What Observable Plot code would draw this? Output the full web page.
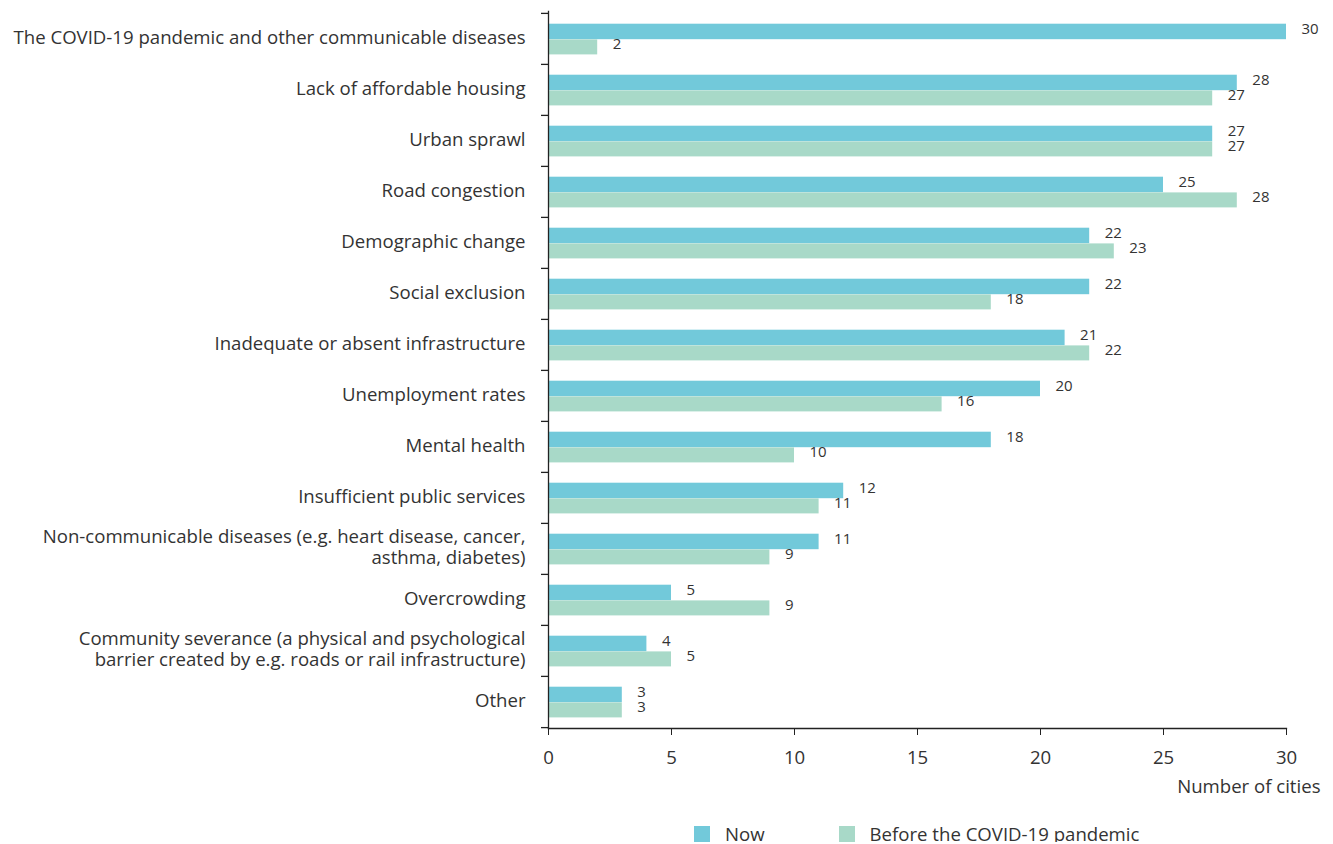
<!DOCTYPE html>
<html>
<head>
<meta charset="utf-8">
<script src="https://cdn.jsdelivr.net/npm/d3@7"></script>
<script src="https://cdn.jsdelivr.net/npm/@observablehq/plot@0.6"></script>
<style>
  body { margin: 0; background: #fff; font-family: "Open Sans", sans-serif; }
  #legend { display: flex; align-items: center; padding-left: 694px; margin-top: 20px; font-size: 18.6px; color: #333; height: 17px; }
  #legend .sw { width: 16px; height: 16px; display: inline-block; flex: none; }
  #legend .lab { margin-left: 15px; white-space: nowrap; }
</style>
</head>
<body>
<div id="chart"></div>
<div id="legend"></div>
<script>
const categories = [
  "The COVID-19 pandemic and other communicable diseases",
  "Lack of affordable housing",
  "Urban sprawl",
  "Road congestion",
  "Demographic change",
  "Social exclusion",
  "Inadequate or absent infrastructure",
  "Unemployment rates",
  "Mental health",
  "Insufficient public services",
  "Non-communicable diseases (e.g. heart disease, cancer,\nasthma, diabetes)",
  "Overcrowding",
  "Community severance (a physical and psychological\nbarrier created by e.g. roads or rail infrastructure)",
  "Other"
];
const nowValues    = [30, 28, 27, 25, 22, 22, 21, 20, 18, 12, 11, 5, 4, 3];
const beforeValues = [ 2, 27, 27, 28, 23, 18, 22, 16, 10, 11,  9, 9, 5, 3];
const seriesNames = ["Now", "Before the COVID-19 pandemic"];
const seriesColors = ["#72c9da", "#a8d9c8"];
const xTicks = [0, 5, 10, 15, 20, 25, 30];
const xLabel = "Number of cities";

const nowData = categories.map((c, i) => ({category: c, value: nowValues[i]}));
const beforeData = categories.map((c, i) => ({category: c, value: beforeValues[i]}));

const width = 1333, height = 805;
const marginTop = 11, marginBottom = 77, marginLeft = 548, marginRight = 47;
const bw = (height - marginTop - marginBottom) / categories.length;
const textColor = "#333";
const fs = 18.6;

const chart = Plot.plot({
  width, height, marginTop, marginBottom, marginLeft, marginRight,
  style: {fontFamily: "Open Sans, sans-serif", color: textColor, background: "#fff"},
  x: {domain: [0, 30], ticks: xTicks},
  y: {type: "band", domain: categories, padding: 0},
  marks: [
    Plot.barX(nowData, {x: "value", y: "category", fill: seriesColors[0], insetTop: 10.7, insetBottom: 24.8}),
    Plot.barX(beforeData, {x: "value", y: "category", fill: seriesColors[1], insetTop: 26.4, insetBottom: 9.6}),
    Plot.text(nowData, {x: "value", y: "category", text: d => String(d.value), dx: 15, dy: -10, textAnchor: "start", fontSize: 15, fill: textColor}),
    Plot.text(beforeData, {x: "value", y: "category", text: d => String(d.value), dx: 15, dy: 5, textAnchor: "start", fontSize: 15, fill: textColor}),
    Plot.ruleY(categories, {y: d => d, x1: 0, x2: 0, insetLeft: -7, dy: -bw / 2, stroke: "#222", strokeWidth: 1.3}),
    Plot.ruleY(categories.slice(-1), {y: d => d, x1: 0, x2: 0, insetLeft: -7, dy: bw / 2, stroke: "#222", strokeWidth: 1.3}),
    Plot.frame({anchor: "left", stroke: "#222", strokeWidth: 1.3}),
    Plot.frame({anchor: "bottom", stroke: "#222", strokeWidth: 1.3}),
    Plot.axisY({tickSize: 0, tickPadding: 23, fontSize: fs, label: null, lineHeight: 1.1, dy: -2, fill: textColor}),
    Plot.axisX({ticks: xTicks, tickSize: 7, tickPadding: 15, fontSize: fs, label: null, stroke: "#222", fill: textColor}),
    Plot.text([xLabel], {text: d => d, frameAnchor: "bottom-right", dx: 34, dy: 64, textAnchor: "end", fontSize: fs, fill: textColor})
  ]
});
document.getElementById("chart").appendChild(chart);

const legend = document.getElementById("legend");
seriesNames.forEach((name, i) => {
  const sw = document.createElement("span");
  sw.className = "sw";
  sw.style.background = seriesColors[i];
  if (i > 0) sw.style.marginLeft = "74px";
  const lab = document.createElement("span");
  lab.className = "lab";
  lab.textContent = name;
  legend.appendChild(sw);
  legend.appendChild(lab);
});
</script>
</body>
</html>
